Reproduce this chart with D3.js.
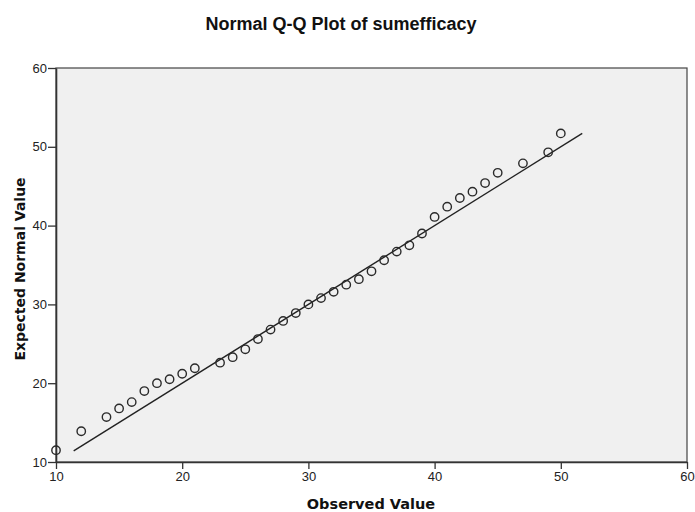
<!DOCTYPE html>
<html>
<head>
<meta charset="utf-8">
<script src="https://cdn.jsdelivr.net/npm/d3@7/dist/d3.min.js"></script>
<style>
  body { margin: 0; background: #fff; }
  svg { display: block; }
</style>
</head>
<body>
<div id="chart"></div>
<script>
const observed = [10, 12, 14, 15, 16, 17, 18, 19, 20, 21, 23, 24, 25, 26, 27, 28, 29, 30,
  31, 32, 33, 34, 35, 36, 37, 38, 39, 40, 41, 42, 43, 44, 45, 47, 49, 50];
const expected = [11.5, 13.9, 15.7, 16.8, 17.6, 19.0, 20.0, 20.5, 21.2, 21.9, 22.6, 23.3,
  24.3, 25.6, 26.8, 27.9, 28.9, 30.0, 30.8, 31.6, 32.5, 33.2, 34.2, 35.6, 36.7, 37.5,
  39.0, 41.1, 42.4, 43.5, 44.3, 45.4, 46.7, 47.9, 49.3, 51.7];
// reference line (expected = observed) runs over the range of the expected values
const lineEnds = [11.4, 51.7];
const xTicks = [10, 20, 30, 40, 50, 60];
const yTicks = [10, 20, 30, 40, 50, 60];

const width = 695, height = 512;
const margin = { top: 68, right: 8, bottom: 50, left: 56 };

const svg = d3.select("#chart").append("svg")
  .attr("width", width)
  .attr("height", height);

const x = d3.scaleLinear().domain([10, 60]).range([margin.left, width - margin.right]);
const y = d3.scaleLinear().domain([10, 60]).range([height - margin.bottom, margin.top]);

// plot background + frame
svg.append("rect")
  .attr("x", x(10)).attr("y", y(60))
  .attr("width", x(60) - x(10)).attr("height", y(10) - y(60))
  .attr("fill", "#f0f0f0")
  .attr("stroke", "#444")
  .attr("stroke-width", 1.2);

const tickFont = "'Liberation Sans', Arial, sans-serif";

const xAxis = svg.append("g")
  .attr("transform", `translate(0,${y(10)})`)
  .call(d3.axisBottom(x).tickValues(xTicks).tickSize(7).tickPadding(3).tickSizeOuter(0));
const yAxis = svg.append("g")
  .attr("transform", `translate(${x(10)},0)`)
  .call(d3.axisLeft(y).tickValues(yTicks).tickSize(8).tickPadding(1).tickSizeOuter(0));

[xAxis, yAxis].forEach(g => {
  g.select(".domain").attr("stroke", "#333").attr("stroke-width", 1.6);
  g.selectAll(".tick line").attr("stroke", "#333").attr("stroke-width", 1.3);
  g.selectAll(".tick text")
    .attr("fill", "#222")
    .attr("font-size", "13px")
    .attr("font-family", tickFont);
});

// reference line
svg.append("line")
  .attr("x1", x(lineEnds[0])).attr("y1", y(lineEnds[0]))
  .attr("x2", x(lineEnds[1])).attr("y2", y(lineEnds[1]))
  .attr("stroke", "#222")
  .attr("stroke-width", 1.4);

// points
svg.append("g").selectAll("circle")
  .data(observed.map((v, i) => ({ obs: v, exp: expected[i] })))
  .join("circle")
  .attr("cx", d => x(d.obs))
  .attr("cy", d => y(d.exp))
  .attr("r", 4.2)
  .attr("fill", "none")
  .attr("stroke", "#2a2a2a")
  .attr("stroke-width", 1.4);

// title
svg.append("text")
  .attr("x", 341).attr("y", 30)
  .attr("text-anchor", "middle")
  .attr("font-family", tickFont)
  .attr("font-weight", "bold")
  .attr("font-size", "18px")
  .attr("fill", "#111")
  .text("Normal Q-Q Plot of sumefficacy");

// axis titles
svg.append("text")
  .attr("x", 371).attr("y", 509)
  .attr("text-anchor", "middle")
  .attr("font-family", "'DejaVu Sans', sans-serif")
  .attr("font-weight", "bold")
  .attr("font-size", "14.5px")
  .attr("fill", "#111")
  .text("Observed Value");

svg.append("text")
  .attr("transform", `translate(25,${(y(10) + y(60)) / 2 + 4}) rotate(-90)`)
  .attr("text-anchor", "middle")
  .attr("font-family", "'DejaVu Sans', sans-serif")
  .attr("font-weight", "bold")
  .attr("font-size", "14px")
  .attr("fill", "#111")
  .text("Expected Normal Value");
</script>
</body>
</html>
